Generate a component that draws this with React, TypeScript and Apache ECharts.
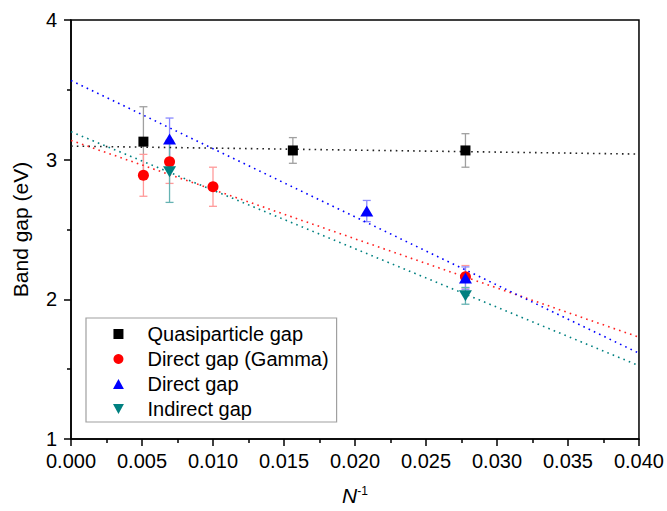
import React, { useEffect, useRef } from "react";
import * as echarts from "echarts";

// ---- data ----
const xTicks = [0, 0.005, 0.01, 0.015, 0.02, 0.025, 0.03, 0.035, 0.04];
const seriesNames = ["Quasiparticle gap", "Direct gap (Gamma)", "Direct gap", "Indirect gap"];

// [x, value, error]
const quasiX = [0.0051, 0.015625, 0.02778];
const quasiY = [3.129, 3.066, 3.066];
const quasiErr = [0.25, 0.092, 0.12];

const gammaX = [0.0051, 0.00694, 0.01, 0.02778];
const gammaY = [2.888, 2.985, 2.806, 2.162];
const gammaErr = [0.15, 0.155, 0.14, 0.08];

const directX = [0.00694, 0.02083, 0.02778];
const directY = [3.148, 2.632, 2.152];
const directErr = [0.15, 0.076, 0.08];

const indirectX = [0.00694, 0.02778];
const indirectY = [2.914, 2.025];
const indirectErr = [0.22, 0.06];

// linear fits, evaluated at fitX
const fitX = [0, 0.04];
const quasiFit = [3.097, 3.04];
const gammaFit = [3.138, 1.729];
const directFit = [3.567, 1.614];
const indirectFit = [3.2, 1.525];

const FONT = "'Liberation Sans', Arial, sans-serif";

const zip3 = (a: number[], b: number[], c: number[]) => a.map((v, i) => [v, b[i], c[i]]);
const zip2 = (a: number[], b: number[]) => a.map((v, i) => [v, b[i]]);

function errorSeries(data: number[][], color: string) {
  return {
    type: "custom",
    silent: true,
    z: 1,
    encode: { x: 0, y: 1 },
    data,
    renderItem: (params: any, api: any) => {
      const x = api.value(0);
      const y = api.value(1);
      const e = api.value(2);
      const top = api.coord([x, y + e]);
      const bot = api.coord([x, y - e]);
      const hw = 4;
      const style = { stroke: color, lineWidth: 1.3 };
      return {
        type: "group",
        children: [
          { type: "line", shape: { x1: top[0], y1: top[1], x2: bot[0], y2: bot[1] }, style },
          { type: "line", shape: { x1: top[0] - hw, y1: top[1], x2: top[0] + hw, y2: top[1] }, style },
          { type: "line", shape: { x1: bot[0] - hw, y1: bot[1], x2: bot[0] + hw, y2: bot[1] }, style },
        ],
      };
    },
  };
}

function fitSeries(vals: number[], color: string) {
  return {
    type: "line",
    silent: true,
    z: 1,
    data: zip2(fitX, vals),
    symbol: "none",
    lineStyle: { color, width: 1.6, type: [1.6, 4.2] },
  };
}

export default function App() {
  const ref = useRef<HTMLDivElement>(null);
  useEffect(() => {
    if (!ref.current) return;
    const chart = echarts.init(ref.current, undefined, { renderer: "svg" });
    const colors = ["#000000", "#ff0000", "#0000ff", "#008080"];
    const scatterBase = { type: "scatter", z: 3, symbolKeepAspect: true };
    chart.setOption({
      animation: false,
      textStyle: { fontFamily: FONT },
      grid: {
        left: 71,
        right: 28,
        top: 20,
        bottom: 72,
        show: true,
        borderColor: "#000",
        borderWidth: 1.5,
        backgroundColor: "transparent",
      },
      legend: {
        left: 86,
        top: 318,
        orient: "vertical",
        selectedMode: false,
        data: seriesNames,
        itemWidth: 48,
        itemHeight: 10,
        itemGap: 5,
        symbolKeepAspect: true,
        padding: [6, 8, 3, 27],
        borderColor: "#a0a0a0",
        borderWidth: 1.2,
        backgroundColor: "#fff",
        textStyle: { fontSize: 20, lineHeight: 20, color: "#000", fontFamily: FONT },
      },
      xAxis: {
        type: "value",
        min: xTicks[0],
        max: xTicks[xTicks.length - 1],
        interval: 0.005,
        name: "{n|N}{s|-1}",
        nameLocation: "middle",
        nameGap: 46,
        nameTextStyle: {
          rich: {
            n: { fontSize: 21, fontStyle: "italic", color: "#000", fontFamily: FONT },
            s: { fontSize: 12, verticalAlign: "top", color: "#000", fontFamily: FONT, lineHeight: 14 },
          },
        },
        axisLine: { show: true, lineStyle: { color: "#000", width: 1.5 } },
        axisTick: { show: true, inside: false, length: 7, lineStyle: { color: "#000", width: 1.5 } },
        minorTick: { show: true, splitNumber: 2, length: 4, lineStyle: { color: "#000", width: 1.5 } },
        splitLine: { show: false },
        axisLabel: {
          fontSize: 20,
          color: "#000",
          margin: 12,
          fontFamily: FONT,
          formatter: (v: number) => v.toFixed(3),
        },
      },
      yAxis: {
        type: "value",
        min: 1,
        max: 4,
        interval: 1,
        name: "Band gap (eV)",
        nameLocation: "middle",
        nameGap: 40,
        nameTextStyle: { fontSize: 21, color: "#000", fontFamily: FONT },
        axisLine: { show: true, lineStyle: { color: "#000", width: 1.5 } },
        axisTick: { show: true, inside: false, length: 7, lineStyle: { color: "#000", width: 1.5 } },
        minorTick: { show: true, splitNumber: 2, length: 4, lineStyle: { color: "#000", width: 1.5 } },
        splitLine: { show: false },
        axisLabel: { fontSize: 20, color: "#000", margin: 14, fontFamily: FONT },
      },
      series: [
        fitSeries(quasiFit, "#222222"),
        fitSeries(gammaFit, "#ff2020"),
        fitSeries(directFit, "#0000ff"),
        fitSeries(indirectFit, "#008080"),
        errorSeries(zip3(quasiX, quasiY, quasiErr), "#a0a0a0"),
        errorSeries(zip3(gammaX, gammaY, gammaErr), "#ff9a9a"),
        errorSeries(zip3(directX, directY, directErr), "#8a8aff"),
        errorSeries(zip3(indirectX, indirectY, indirectErr), "#66b3b3"),
        {
          ...scatterBase,
          name: seriesNames[0],
          data: zip2(quasiX, quasiY),
          symbol: "path://M0,0L10,0L10,10L0,10Z",
          symbolSize: 10,
          itemStyle: { color: colors[0], opacity: 1 },
        },
        {
          ...scatterBase,
          name: seriesNames[1],
          data: zip2(gammaX, gammaY),
          symbol: "circle",
          symbolSize: 11,
          itemStyle: { color: colors[1], opacity: 1 },
        },
        {
          ...scatterBase,
          name: seriesNames[2],
          data: zip2(directX, directY),
          symbol: "path://M6,0L12,11L0,11Z",
          symbolSize: [13, 12],
          itemStyle: { color: colors[2], opacity: 1 },
        },
        {
          ...scatterBase,
          name: seriesNames[3],
          data: zip2(indirectX, indirectY),
          symbol: "path://M0,0L12,0L6,11Z",
          symbolSize: [13, 12],
          itemStyle: { color: colors[3], opacity: 1 },
        },
      ],
    });
    return () => chart.dispose();
  }, []);
  return (
    <div style={{ position: "fixed", left: 0, top: 0, width: 667, height: 511, background: "#fff" }}>
      <div ref={ref} style={{ width: 667, height: 511 }} />
    </div>
  );
}
